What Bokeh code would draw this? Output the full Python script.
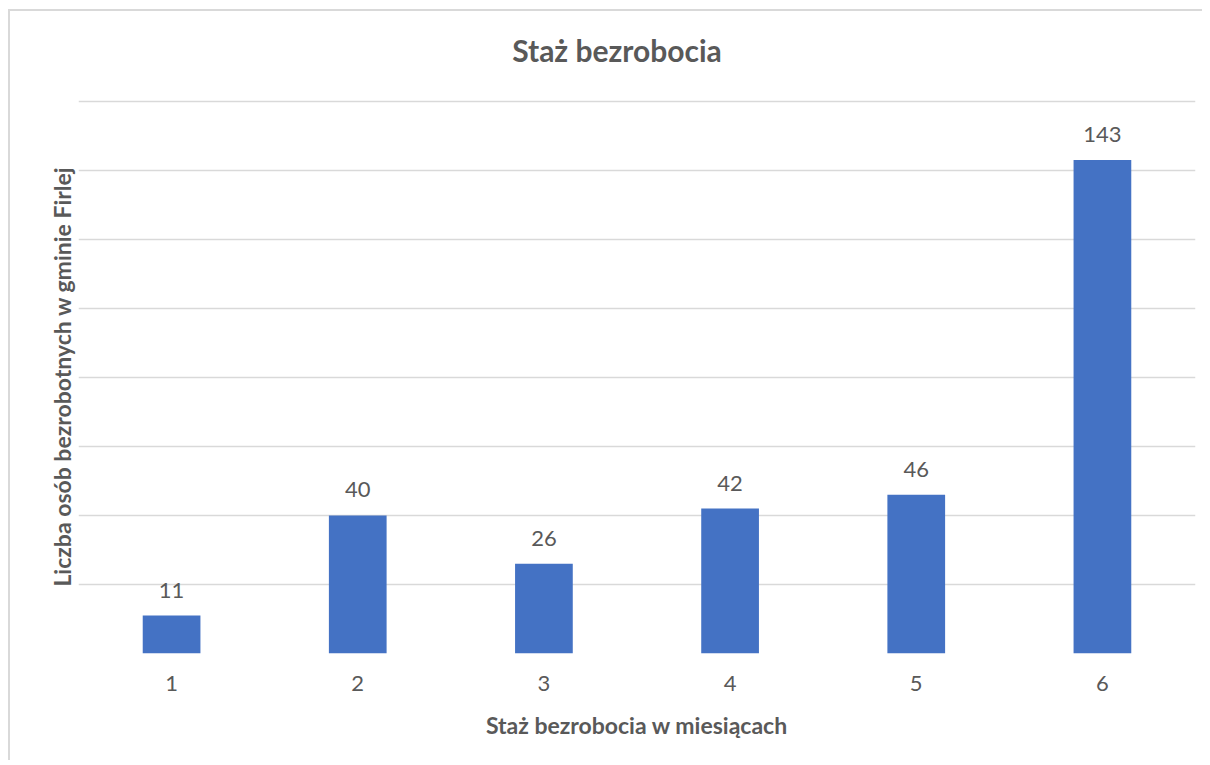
from bokeh.plotting import figure
from bokeh.models import ColumnDataSource, LabelSet, FactorRange, Range1d, FixedTicker, Div
from bokeh.layouts import column
from bokeh.core.properties import value
from bokeh.embed import file_html
from bokeh.resources import INLINE

# ---- data ----
categories = ["1", "2", "3", "4", "5", "6"]
values = [11, 40, 26, 42, 46, 143]
y_grid_ticks = [0, 20, 40, 60, 80, 100, 120, 140, 160]
title_text = "Staż bezrobocia"
x_label = "Staż bezrobocia w miesiącach"
y_label = "Liczba osób bezrobotnych w gminie Firlej"

TXT = "#595959"
FONT = "Lato"

src = ColumnDataSource(dict(x=categories, top=values, label=[str(v) for v in values]))

# chart title (centred over the whole chart area)
title = Div(
    text=(f'<div style="display:block;box-sizing:content-box;width:1170px;'
          f'font-family:Lato;font-weight:bold;font-size:30px;line-height:36px;'
          f'color:{TXT};text-align:center;padding-top:21px;padding-left:22px;'
          f'white-space:nowrap">{title_text}</div>'),
    width=1192, height=69, margin=0,
)

p = figure(
    width=1192, height=680,
    x_range=FactorRange(factors=categories, range_padding=0),
    y_range=Range1d(0, 160.5),
    output_backend="svg", toolbar_location=None,
    min_border_left=68, min_border_right=7, min_border_top=19, min_border_bottom=107,
)
p.outline_line_color = None
p.background_fill_color = "white"
p.border_fill_color = "white"

p.vbar(x="x", top="top", width=0.31, source=src, color="#4472C4", line_color=None)

labels = LabelSet(x="x", y="top", text="label", source=src, text_align="center",
                  text_baseline="alphabetic", y_offset=18, text_font=value(FONT),
                  text_font_size="22px", text_color=TXT)
p.add_layout(labels)

# grid
p.xgrid.grid_line_color = None
p.ygrid.ticker = FixedTicker(ticks=y_grid_ticks)
p.ygrid.grid_line_color = "#d9d9d9"
p.ygrid.grid_line_width = 1.3

# x axis
xa = p.xaxis[0]
xa.axis_line_color = None
xa.major_tick_line_color = None
xa.minor_tick_line_color = None
xa.major_tick_out = 0
xa.major_label_standoff = 22
xa.major_label_text_font = FONT
xa.major_label_text_font_size = "22px"
xa.major_label_text_color = TXT
xa.axis_label = x_label
xa.axis_label_text_font = FONT
xa.axis_label_text_font_size = "23px"
xa.axis_label_text_font_style = "bold"
xa.axis_label_text_color = TXT
xa.axis_label_standoff = 17

# y axis (label only)
ya = p.yaxis[0]
ya.ticker = FixedTicker(ticks=[])
ya.axis_line_color = None
ya.major_tick_line_color = None
ya.minor_tick_line_color = None
ya.major_tick_out = 0
ya.major_label_standoff = 0
ya.axis_label = y_label
ya.axis_label_text_font = FONT
ya.axis_label_text_font_size = "23px"
ya.axis_label_text_font_style = "bold"
ya.axis_label_text_color = TXT
ya.axis_label_standoff = 3

layout = column(
    title, p,
    styles={"border-left": "2px solid #d9d9d9", "border-top": "2px solid #d9d9d9",
            "margin-left": "8px", "margin-top": "9px", "background": "white"},
)

open("out.html", "w").write(file_html(layout, INLINE))
